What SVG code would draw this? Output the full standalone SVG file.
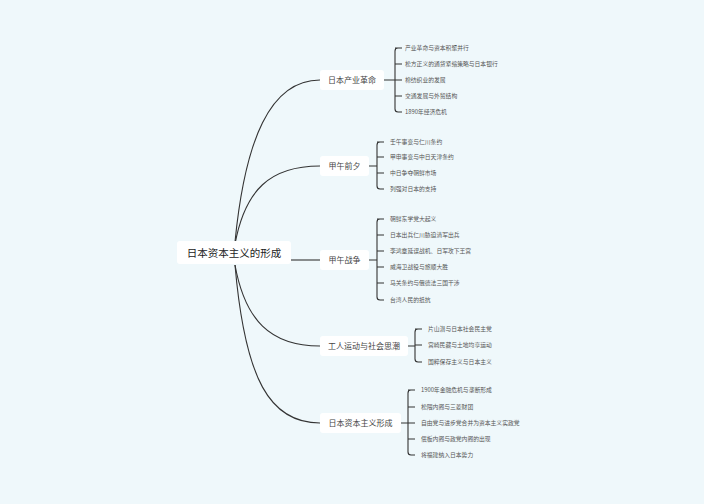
<svg xmlns="http://www.w3.org/2000/svg" width="704" height="504" viewBox="0 0 704 504">
<style>
text{font-family:"Noto Sans CJK SC","Liberation Sans",sans-serif;fill:#333}
.root{font-size:10.5px;fill:#222}
.br{font-size:8px;fill:#444}
.lf{font-size:5.8px;fill:#555}
.box{fill:#fff}
.c{fill:none;stroke:#333;stroke-width:1.1}
</style>
<rect width="704" height="504" fill="#eff8fb"/>
<g id="connectors">
<path class="c" d="M235 242 C245 140 270 80 320 80"/>
<path class="c" d="M235 244 C245 190 270 166 320 166"/>
<path class="c" d="M291 260 L320 260"/>
<path class="c" d="M235 265 C245 320 270 346 320 346"/>
<path class="c" d="M235 265 C245 380 270 423 320 423"/>
<path class="c" d="M384 80 H395 M398 48 Q395 48 395 51 V109 Q395 112 398 112 H402 M395 48 H402 M395 64 H402 M395 80 H402 M395 96 H402"/>
<path class="c" d="M369 166 H377 M380 142 Q377 142 377 145 V186 Q377 189 380 189 H384 M377 142 H384 M377 157 H384 M377 173 H384"/>
<path class="c" d="M369 260 H377 M380 219 Q377 219 377 222 V297 Q377 300 380 300 H384 M377 219 H384 M377 235 H384 M377 251 H384 M377 267 H384 M377 283 H384"/>
<path class="c" d="M408 346 H415 M418 329 Q415 329 415 332 V359 Q415 362 418 362 H422 M415 329 H422 M415 345 H422"/>
<path class="c" d="M401 423 H408 M411 390 Q408 390 408 393 V452 Q408 455 411 455 H415 M408 390 H415 M408 407 H415 M408 423 H415 M408 439 H415"/>
</g>
<g id="root"><rect class="box" x="177" y="241" width="114" height="23" rx="3"/><text class="root" x="234" y="256.5" text-anchor="middle">日本资本主义的形成</text></g>
<g id="b1"><rect class="box" x="320" y="70" width="64" height="20" rx="3"/><text class="br" x="352" y="83" text-anchor="middle">日本产业革命</text></g>
<g id="b2"><rect class="box" x="320" y="156" width="49" height="20" rx="3"/><text class="br" x="344.5" y="169" text-anchor="middle">甲午前夕</text></g>
<g id="b3"><rect class="box" x="320" y="250" width="49" height="20" rx="3"/><text class="br" x="344.5" y="263" text-anchor="middle">甲午战争</text></g>
<g id="b4"><rect class="box" x="320" y="336" width="88" height="20" rx="3"/><text class="br" x="364" y="349" text-anchor="middle">工人运动与社会思潮</text></g>
<g id="b5"><rect class="box" x="320" y="413" width="81" height="20" rx="3"/><text class="br" x="360.5" y="426" text-anchor="middle">日本资本主义形成</text></g>
<g id="leaves">
<text class="lf" x="405" y="50">产业革命与资本积聚并行</text>
<text class="lf" x="405" y="66">松方正义的通货紧缩策略与日本银行</text>
<text class="lf" x="405" y="82">棉纺织业的发展</text>
<text class="lf" x="405" y="98">交通发展与外贸结构</text>
<text class="lf" x="405" y="114">1890年经济危机</text>
<text class="lf" x="390" y="144">壬午事变与仁川条约</text>
<text class="lf" x="390" y="159">甲申事变与中日天津条约</text>
<text class="lf" x="390" y="175">中日争夺朝鲜市场</text>
<text class="lf" x="390" y="191">列强对日本的支持</text>
<text class="lf" x="390" y="221">朝鲜东学党大起义</text>
<text class="lf" x="390" y="237">日本出兵仁川胁迫清军出兵</text>
<text class="lf" x="390" y="253">李鸿章延误战机、日军攻下王宫</text>
<text class="lf" x="390" y="269">威海卫战役与旅顺大胜</text>
<text class="lf" x="390" y="285">马关条约与俄德法三国干涉</text>
<text class="lf" x="390" y="302">台湾人民的抵抗</text>
<text class="lf" x="428" y="331">片山潜与日本社会民主党</text>
<text class="lf" x="428" y="347">宫崎民藏与土地均享运动</text>
<text class="lf" x="428" y="364">国粹保存主义与日本主义</text>
<text class="lf" x="421" y="392">1900年金融危机与垄断形成</text>
<text class="lf" x="421" y="409">松隈内阁与三菱财团</text>
<text class="lf" x="421" y="425">自由党与进步党合并为资本主义实政党</text>
<text class="lf" x="421" y="441">偎板内阁与政党内阁的出现</text>
<text class="lf" x="421" y="457">将福建纳入日本势力</text>
</g>
</svg>
